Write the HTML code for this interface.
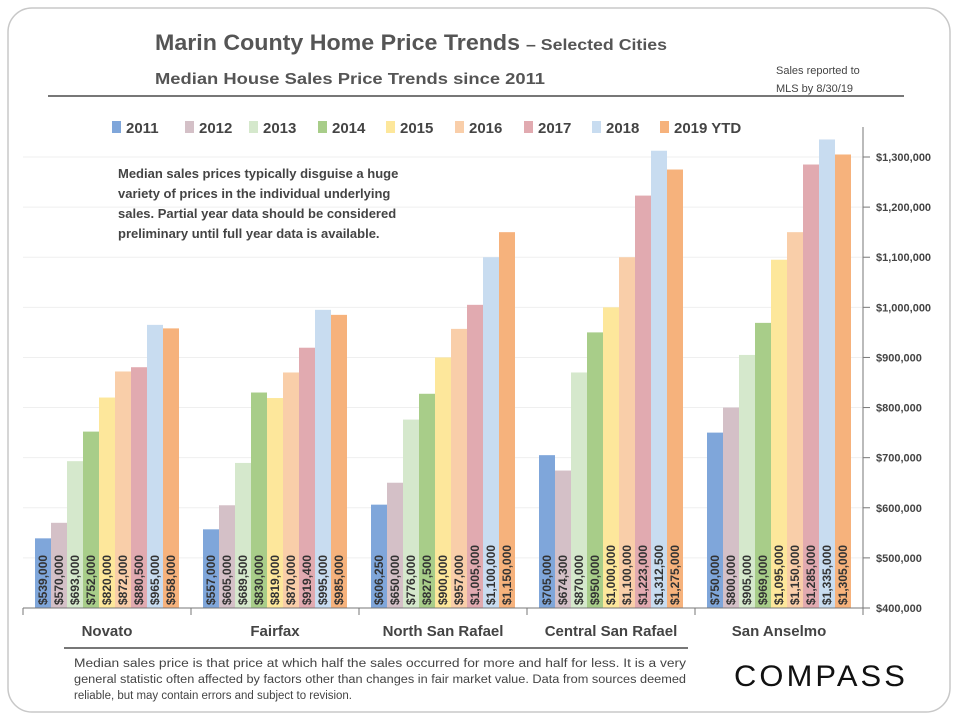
<!DOCTYPE html>
<html><head><meta charset="utf-8"><style>
body{margin:0;background:#fff;font-family:"Liberation Sans",sans-serif;}
svg{display:block}
</style></head><body>
<svg id="chart" width="960" height="720" xmlns="http://www.w3.org/2000/svg">
<rect x="8" y="8" width="942" height="704" rx="24" fill="#fff" stroke="#c8c8c8" stroke-width="1.5"/>
<text x="155" y="50" font-size="22" font-weight="bold" fill="#555" textLength="365" lengthAdjust="spacingAndGlyphs">Marin County Home Price Trends</text>
<text x="526" y="50" font-size="16" font-weight="bold" fill="#555" textLength="141" lengthAdjust="spacingAndGlyphs">– Selected Cities</text>
<text x="155" y="84" font-size="16" font-weight="bold" fill="#555" textLength="390" lengthAdjust="spacingAndGlyphs">Median House Sales Price Trends since 2011</text>
<text x="776" y="74" font-size="11" fill="#444">Sales reported to</text>
<text x="776" y="92" font-size="11" fill="#444">MLS by 8/30/19</text>
<line x1="48" y1="96" x2="904" y2="96" stroke="#777" stroke-width="2"/>
<g id="grid"></g><g id="bars"></g><g id="axes"></g><g id="legend"></g>
<g font-size="13" font-weight="bold" fill="#444">
<text x="118" y="178">Median sales prices typically disguise a huge</text>
<text x="118" y="198">variety of prices in the individual underlying</text>
<text x="118" y="218">sales. Partial year data should be considered</text>
<text x="118" y="238">preliminary until full year data is available.</text>
</g>
<line x1="64" y1="648" x2="688" y2="648" stroke="#777" stroke-width="2"/>
<g font-size="11.5" fill="#444">
<text x="74" y="667" textLength="612" lengthAdjust="spacingAndGlyphs">Median sales price is that price at which half the sales occurred for more and half for less. It is a very</text>
<text x="74" y="683" textLength="612" lengthAdjust="spacingAndGlyphs">general statistic often affected by factors other than changes in fair market value. Data from sources deemed</text>
<text x="74" y="699" textLength="278" lengthAdjust="spacingAndGlyphs">reliable, but may contain errors and subject to revision.</text>
</g>
<text x="734" y="686" font-size="30" fill="#111" letter-spacing="3" textLength="174" lengthAdjust="spacingAndGlyphs">COMPASS</text>
</svg>
<script>
const cities=["Novato","Fairfax","North San Rafael","Central San Rafael","San Anselmo"];
const years=["2011","2012","2013","2014","2015","2016","2017","2018","2019 YTD"];
const novato=[539000,570000,693000,752000,820000,872000,880500,965000,958000];
const fairfax=[557000,605000,689500,830000,819000,870000,919400,995000,985000];
const northSanRafael=[606250,650000,776000,827500,900000,957000,1005000,1100000,1150000];
const centralSanRafael=[705000,674300,870000,950000,1000000,1100000,1223000,1312500,1275000];
const sanAnselmo=[750000,800000,905000,969000,1095000,1150000,1285000,1335000,1305000];
const yTicks=[400000,500000,600000,700000,800000,900000,1000000,1100000,1200000,1300000];
const colors=["#7fa6da","#d4c0c7","#d5e8cc","#a8cd89","#fde79b","#f9cea9","#e1aab0","#c8dcf0","#f6b27c"];
const series=[novato,fairfax,northSanRafael,centralSanRafael,sanAnselmo];
const NS="http://www.w3.org/2000/svg";
const x0=23,x1=863,yBase=608,yTop=157;
const yMin=400000,yMax=1300000;
function yS(v){return yBase-(v-yMin)/(yMax-yMin)*(yBase-yTop);}
const gw=(x1-x0)/cities.length,bw=16,pad=(gw-bw*years.length)/2;
function mk(t,a,p){const e=document.createElementNS(NS,t);for(const k in a)e.setAttribute(k,a[k]);(p||document.getElementById('chart')).appendChild(e);return e;}
const fmt=v=>"$"+v.toLocaleString("en-US");
const grid=document.getElementById('grid'),axes=document.getElementById('axes'),bars=document.getElementById('bars'),leg=document.getElementById('legend');
yTicks.forEach(t=>{const y=yS(t);
 if(t>yMin){const g=mk('line',{x1:x0,x2:x1,y1:y,y2:y,stroke:'#efefef','stroke-width':1},grid);
 
 }
 const tk=mk('line',{x1:x1,x2:x1+7,y1:y,y2:y,stroke:'#777'},axes);
 
 
 const tx=mk('text',{x:876,y:y+4,'font-size':11,'font-weight':'bold',fill:'#444'},axes);
 tx.textContent=fmt(t);
 
 
});
const ya=mk('line',{x1:x1,x2:x1,y1:127,y2:yBase,stroke:'#777'},axes);


const xa=mk('line',{x1:x0,x2:x1,y1:yBase,y2:yBase,stroke:'#777'},axes);


for(let i=0;i<=cities.length;i++){const x=x0+i*gw;const t=mk('line',{x1:x,x2:x,y1:yBase,y2:yBase+7,stroke:'#777'},axes);
 
 }
cities.forEach((c,ci)=>{
 const cl=mk('text',{x:x0+ci*gw+gw/2,y:636,'text-anchor':'middle','font-size':15,'font-weight':'bold',fill:'#444'},axes);
 cl.textContent=c;
 
 
 series[ci].forEach((v,yi)=>{
  const x=x0+ci*gw+pad+yi*bw,y=yS(v);
  const r=mk('rect',{x:x,y:y,width:bw,height:yBase-y,fill:colors[yi]},bars);
  
  
  const l=mk('text',{x:0,y:0,'font-size':12,'font-weight':'bold',fill:'#333',transform:`translate(${x+bw/2+4},${yBase-3}) rotate(-90)`},bars);
  l.textContent=fmt(v);
  
  
 });
});
const legX=[112,185,249,318,386,455,524,592,660];
years.forEach((yr,i)=>{
 const g=mk('g',{},leg);
 
 
 mk('rect',{x:legX[i],y:121,width:9,height:12,fill:colors[i]},g);
 const t=mk('text',{x:legX[i]+14,y:133,'font-size':15,'font-weight':'bold',fill:'#444'},g);
 t.textContent=yr;
});
</script>
</body></html>
